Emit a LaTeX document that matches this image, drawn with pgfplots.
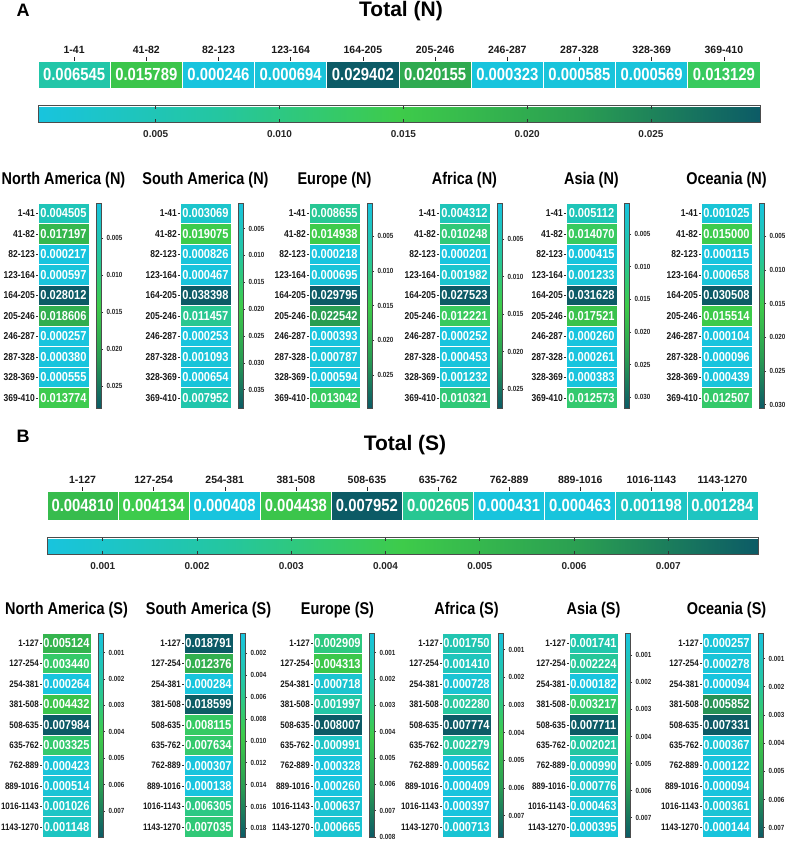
\documentclass[border=0pt]{standalone}
\usepackage{fontspec}
\setmainfont{Liberation Sans}
\newfontfamily\narrow[FakeStretch=0.85]{Liberation Sans}
\usepackage{pgfplots}
\usepackage{pgfplotstable}
\pgfplotsset{compat=1.18}

\newlength\cellw
\newlength\cellh
\pgfdeclareplotmark{cell}{%
  \pgfpathrectangle{\pgfpoint{-0.5\cellw}{-0.5\cellh}}{\pgfpoint{\cellw}{\cellh}}%
  \pgfusepathqfillstroke}

\def\rowfs{10}
\pgfplotsset{
  /pgf/number format/assume math mode=true,
  colormap={cg}{rgb255=(24,196,222) rgb255=(36,198,160) rgb255=(62,203,74) rgb255=(42,158,82) rgb255=(12,91,102)},
  hmcells/.style={scatter, only marks, mark=cell, point meta=explicit,
    scatter/use mapped color={draw=white, fill=mapped color, line width=0.7pt}},
  hmtext/.style={only marks, mark=*, mark size=0pt, draw=none, fill=none, point meta=explicit,
    nodes near coords={\pgfmathprintnumber[fixed,precision=6,fixed zerofill]{\pgfplotspointmeta}},
    nodes near coords align=center,
    every node near coord/.append style={text=white, inner sep=0pt,
      font=\narrow\bfseries\fontsize{13}{14}\selectfont}},
  hmbase/.style={scale only axis, clip=false, colormap name=cg, enlargelimits=false,
    axis line style={draw=none}, tick style={draw=black!85, line width=0.5pt}},
  hmtotal/.style={hmbase, xmin=-0.5, xmax=9.5, ymin=-0.5, ymax=0.5,
    axis x line*=top, axis y line=none, xtick={0,...,9},
    tick align=outside, major tick length=4pt,
    xticklabel style={font=\bfseries\fontsize{10.5}{12}\selectfont, text=black!90},
    colorbar horizontal,
    colorbar style={scale only axis, at={(parent axis.south west)}, anchor=north west,
      yshift=-9pt, height=16.6pt, scaled x ticks=false,
      xticklabel pos=lower, xtick pos=both, tick align=inside, major tick length=3pt,
      tick style={draw=black!80, line width=0.6pt},
      axis line style={draw=black!70, line width=0.6pt},
      xticklabel style={font=\bfseries\fontsize{10}{11}\selectfont, text=black!85, yshift=-5pt,
        /pgf/number format/.cd, fixed, precision=3, fixed zerofill}}},
  hmregion/.style={hmbase, xmin=-0.5, xmax=0.5, ymin=-0.5, ymax=9.5, y dir=reverse,
    axis y line*=left, axis x line=none, ytick={0,...,9},
    tick align=outside, major tick length=2pt,
    yticklabel style={font=\narrow\bfseries\fontsize{\rowfs}{10}\selectfont, text=black!90, inner sep=1pt},
    title style={font=\narrow\bfseries\fontsize{17}{18}\selectfont, anchor=base, yshift=13pt},
    colorbar,
    colorbar style={scale only axis, width=5pt, at={(parent axis.north east)},
      anchor=north west, xshift=-1pt, y dir=reverse, scaled y ticks=false,
      ytick pos=right, yticklabel pos=right, tick align=outside, major tick length=1.5pt,
      tick style={draw=black!80, line width=0.5pt},
      axis line style={draw=black!70, line width=0.6pt},
      yticklabel style={font=\narrow\bfseries\fontsize{7.4}{8}\selectfont, text=black!85,
        /pgf/number format/.cd, fixed, precision=3, fixed zerofill}}},
}

% #1 left, #2 top, #3 width, #4 height, #5 title, #6 row labels, #7 colorbar step, #8 values (row, value)
\newcommand{\regionhm}[8]{%
  \pgfplotstableread[row sep=\\]{r v\\ #8}\hmdata
  \setlength\cellw{#3pt}\setlength\cellh{\dimexpr #4pt/10\relax}%
  \begin{axis}[hmregion, at={(#1pt,-#2pt)}, anchor=north west, width=#3pt, height=#4pt,
    title={#5}, yticklabels/.expand once=#6, colorbar style={ytick distance=#7}]
    \addplot[hmcells] table[x expr=0, y=r, meta=v] {\hmdata};
    \addplot[hmtext] table[x expr=0, y=r, meta=v] {\hmdata};
  \end{axis}}

\def\rowsN{1-41,41-82,82-123,123-164,164-205,205-246,246-287,287-328,328-369,369-410}
\def\rowsS{1-127,127-254,254-381,381-508,508-635,635-762,762-889,889-1016,1016-1143,1143-1270}

\pgfplotstableread{
c v
0 0.006545
1 0.015789
2 0.000246
3 0.000694
4 0.029402
5 0.020155
6 0.000323
7 0.000585
8 0.000569
9 0.013129
}\totalN

\pgfplotstableread{
c v
0 0.004810
1 0.004134
2 0.000408
3 0.004438
4 0.007952
5 0.002605
6 0.000431
7 0.000463
8 0.001198
9 0.001284
}\totalS

\begin{document}
\begin{tikzpicture}
\useasboundingbox (0,0) rectangle (784pt,-842pt);

% ---------- A ----------
\node[anchor=base west, font=\bfseries\fontsize{18}{20}\selectfont] at (13pt,-17pt) {A};
\node[anchor=base, font=\bfseries\fontsize{21}{23}\selectfont] at (401pt,-17pt) {Total (N)};

\setlength\cellw{72.2pt}\setlength\cellh{27pt}
\begin{axis}[hmtotal, at={(38pt,-61pt)}, anchor=north west, width=722pt, height=27pt,
  xticklabels={1-41,41-82,82-123,123-164,164-205,205-246,246-287,287-328,328-369,369-410},
  colorbar style={xtick distance=0.005}]
  \addplot[hmcells] table[x=c, y expr=0, meta=v] {\totalN};
  \addplot[hmtext, every node near coord/.append style={font=\narrow\bfseries\fontsize{17.5}{18}\selectfont}]
    table[x=c, y expr=0, meta=v] {\totalN};
\end{axis}

\regionhm{38}{203}{51}{205}{North America (N)}{\rowsN}{0.005}{%
  0 0.004505\\ 1 0.017197\\ 2 0.000217\\ 3 0.000597\\ 4 0.028012\\
  5 0.018606\\ 6 0.000257\\ 7 0.000380\\ 8 0.000555\\ 9 0.013774\\}
\regionhm{180}{203}{51}{205}{South America (N)}{\rowsN}{0.005}{%
  0 0.003069\\ 1 0.019075\\ 2 0.000826\\ 3 0.000467\\ 4 0.038398\\
  5 0.011457\\ 6 0.000253\\ 7 0.001093\\ 8 0.000654\\ 9 0.007952\\}
\regionhm{309}{203}{51}{205}{Europe (N)}{\rowsN}{0.005}{%
  0 0.008655\\ 1 0.014938\\ 2 0.000218\\ 3 0.000695\\ 4 0.029795\\
  5 0.022542\\ 6 0.000393\\ 7 0.000787\\ 8 0.000594\\ 9 0.013042\\}
\regionhm{439}{203}{51}{205}{Africa (N)}{\rowsN}{0.005}{%
  0 0.004312\\ 1 0.010248\\ 2 0.000201\\ 3 0.001982\\ 4 0.027523\\
  5 0.012221\\ 6 0.000252\\ 7 0.000453\\ 8 0.001232\\ 9 0.010321\\}
\regionhm{566}{203}{51}{205}{Asia (N)}{\rowsN}{0.005}{%
  0 0.005112\\ 1 0.014070\\ 2 0.000415\\ 3 0.001233\\ 4 0.031628\\
  5 0.017521\\ 6 0.000260\\ 7 0.000261\\ 8 0.000383\\ 9 0.012573\\}
\regionhm{701}{203}{51}{205}{Oceania (N)}{\rowsN}{0.005}{%
  0 0.001025\\ 1 0.015000\\ 2 0.000115\\ 3 0.000658\\ 4 0.030508\\
  5 0.015514\\ 6 0.000104\\ 7 0.000096\\ 8 0.000439\\ 9 0.012507\\}

% ---------- B ----------
\node[anchor=base west, font=\bfseries\fontsize{18}{20}\selectfont] at (13pt,-442pt) {B};
\node[anchor=base, font=\bfseries\fontsize{21}{23}\selectfont] at (405pt,-450pt) {Total (S)};

\setlength\cellw{71.1pt}\setlength\cellh{29pt}
\begin{axis}[hmtotal, at={(47pt,-491pt)}, anchor=north west, width=711pt, height=29pt,
  xticklabels={1-127,127-254,254-381,381-508,508-635,635-762,762-889,889-1016,1016-1143,1143-1270},
  colorbar style={xtick distance=0.001}]
  \addplot[hmcells] table[x=c, y expr=0, meta=v] {\totalS};
  \addplot[hmtext, every node near coord/.append style={font=\narrow\bfseries\fontsize{17.5}{18}\selectfont}]
    table[x=c, y expr=0, meta=v] {\totalS};
\end{axis}

\def\rowfs{9.4}
\regionhm{42}{633}{49}{204}{North America (S)}{\rowsS}{0.001}{%
  0 0.005124\\ 1 0.003440\\ 2 0.000264\\ 3 0.004432\\ 4 0.007984\\
  5 0.003325\\ 6 0.000423\\ 7 0.000514\\ 8 0.001026\\ 9 0.001148\\}
\regionhm{184}{633}{49}{204}{South America (S)}{\rowsS}{0.002}{%
  0 0.018791\\ 1 0.012376\\ 2 0.000284\\ 3 0.018599\\ 4 0.008115\\
  5 0.007634\\ 6 0.000307\\ 7 0.000138\\ 8 0.006305\\ 9 0.007035\\}
\regionhm{313}{633}{49}{204}{Europe (S)}{\rowsS}{0.001}{%
  0 0.002909\\ 1 0.004313\\ 2 0.000718\\ 3 0.001997\\ 4 0.008007\\
  5 0.000991\\ 6 0.000328\\ 7 0.000260\\ 8 0.000637\\ 9 0.000665\\}
\regionhm{442}{633}{49}{204}{Africa (S)}{\rowsS}{0.001}{%
  0 0.001750\\ 1 0.001410\\ 2 0.000728\\ 3 0.002280\\ 4 0.007774\\
  5 0.002279\\ 6 0.000562\\ 7 0.000409\\ 8 0.000397\\ 9 0.000713\\}
\regionhm{569}{633}{49}{204}{Asia (S)}{\rowsS}{0.001}{%
  0 0.001741\\ 1 0.002224\\ 2 0.000182\\ 3 0.003217\\ 4 0.007711\\
  5 0.002021\\ 6 0.000990\\ 7 0.000776\\ 8 0.000463\\ 9 0.000395\\}
\regionhm{702}{633}{49}{204}{Oceania (S)}{\rowsS}{0.001}{%
  0 0.000257\\ 1 0.000278\\ 2 0.000094\\ 3 0.005852\\ 4 0.007331\\
  5 0.000367\\ 6 0.000122\\ 7 0.000094\\ 8 0.000361\\ 9 0.000144\\}
\end{tikzpicture}
\end{document}
